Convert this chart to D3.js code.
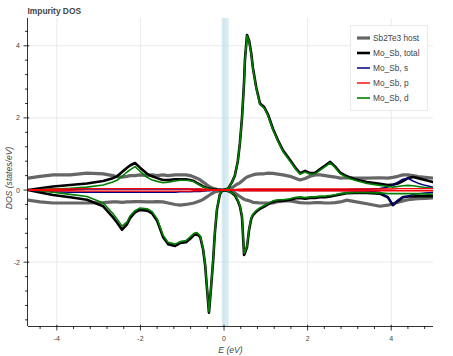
<!DOCTYPE html>
<html><head><meta charset="utf-8">
<script src="https://cdn.jsdelivr.net/npm/d3@7"></script>
<style>
body{margin:0;background:#fff}
svg{display:block;font-family:"Liberation Sans",Arial,Helvetica,sans-serif}
</style>
</head><body>
<svg id="c" width="453" height="356"></svg>
<script>
// Energy grid (eV)
const energy = [-4.69,-4.40,-4.09,-3.68,-3.28,-2.89,-2.66,-2.56,-2.44,-2.32,-2.25,-2.13,-2.01,-1.84,-1.72,-1.60,-1.46,-1.34,-1.17,-1.05,-0.91,-0.81,-0.72,-0.65,-0.57,-0.50,-0.45,-0.41,-0.36,-0.31,-0.26,-0.22,-0.17,-0.10,-0.05,
0.00,0.05,0.10,0.14,0.19,0.26,0.33,0.38,0.43,0.48,0.50,0.55,0.60,0.65,0.69,0.77,0.86,0.96,1.05,1.17,1.29,1.41,1.58,1.72,1.82,1.94,2.06,2.18,2.30,2.42,2.54,2.66,2.78,2.94,3.13,3.42,3.73,3.92,4.04,4.16,4.28,4.40,4.52,4.64,4.81,5.00];

const hostUp = [0.33,0.38,0.42,0.42,0.47,0.45,0.4,0.37,0.36,0.38,0.4,0.4,0.42,0.4,0.42,0.4,0.42,0.4,0.42,0.42,0.42,0.4,0.36,0.33,0.28,0.22,0.18,0.14,0.1,0.07,0.05,0.03,0.02,0.01,0,
0,0,0.01,0.03,0.06,0.12,0.17,0.2,0.25,0.3,0.32,0.36,0.38,0.4,0.42,0.44,0.45,0.45,0.47,0.46,0.44,0.42,0.38,0.32,0.28,0.32,0.38,0.42,0.42,0.4,0.38,0.36,0.33,0.34,0.33,0.33,0.34,0.33,0.35,0.38,0.42,0.42,0.4,0.37,0.35,0.33];
const hostDown = [-0.28,-0.33,-0.36,-0.36,-0.36,-0.35,-0.33,-0.33,-0.34,-0.33,-0.33,-0.32,-0.32,-0.33,-0.33,-0.32,-0.33,-0.36,-0.4,-0.42,-0.4,-0.38,-0.36,-0.33,-0.3,-0.26,-0.22,-0.19,-0.15,-0.11,-0.08,-0.05,-0.04,-0.02,-0.01,
0,-0.01,-0.02,-0.03,-0.05,-0.08,-0.14,-0.18,-0.22,-0.25,-0.27,-0.28,-0.3,-0.32,-0.34,-0.35,-0.36,-0.36,-0.36,-0.36,-0.32,-0.3,-0.3,-0.33,-0.35,-0.36,-0.36,-0.35,-0.35,-0.36,-0.36,-0.35,-0.33,-0.28,-0.32,-0.38,-0.45,-0.42,-0.38,-0.34,-0.3,-0.27,-0.25,-0.24,-0.23,-0.22];

const totalUp = [0,0.05,0.1,0.14,0.18,0.25,0.33,0.38,0.5,0.62,0.68,0.75,0.62,0.45,0.38,0.33,0.28,0.28,0.3,0.3,0.3,0.28,0.25,0.2,0.15,0.1,0.08,0.05,0.04,0.03,0.02,0.01,0.01,0,0,
0,0.02,0.05,0.12,0.22,0.4,0.8,1.3,2.0,3.0,3.6,4.3,4.15,3.8,3.4,2.85,2.4,2.3,2.1,1.7,1.38,1.1,0.83,0.6,0.47,0.53,0.47,0.48,0.58,0.68,0.78,0.65,0.48,0.38,0.3,0.22,0.17,0.14,0.15,0.18,0.25,0.33,0.36,0.33,0.28,0.22];
const totalDown = [0,-0.07,-0.14,-0.2,-0.27,-0.45,-0.75,-0.9,-1.1,-0.95,-0.78,-0.62,-0.55,-0.57,-0.65,-0.85,-1.3,-1.5,-1.55,-1.47,-1.45,-1.35,-1.25,-1.22,-1.3,-1.65,-2.1,-2.7,-3.4,-2.7,-1.95,-1.2,-0.55,-0.12,-0.03,
0,-0.01,-0.03,-0.05,-0.08,-0.15,-0.3,-0.45,-0.75,-1.8,-1.75,-1.58,-1.1,-0.8,-0.7,-0.6,-0.52,-0.46,-0.4,-0.33,-0.3,-0.3,-0.27,-0.23,-0.22,-0.24,-0.22,-0.22,-0.2,-0.2,-0.18,-0.15,-0.12,-0.09,-0.08,-0.08,-0.1,-0.2,-0.42,-0.3,-0.2,-0.18,-0.18,-0.17,-0.17,-0.17];

const sUp = [0,0.01,0.02,0.02,0.03,0.03,0.03,0.03,0.03,0.03,0.03,0.03,0.03,0.03,0.03,0.03,0.03,0.03,0.03,0.03,0.03,0.03,0.02,0.02,0.02,0.01,0.01,0.01,0.01,0,0,0,0,0,0,
0,0,0,0,0,0.01,0.01,0.01,0.01,0.01,0.01,0.01,0.01,0.01,0.01,0.01,0.01,0.01,0.01,0.01,0.01,0.01,0.01,0.01,0.01,0.01,0.01,0.01,0.01,0.01,0.01,0.01,0.01,0.01,0.02,0.02,0.04,0.08,0.14,0.22,0.3,0.33,0.25,0.19,0.13,0.08];
const sDown = [0,-0.03,-0.05,-0.06,-0.06,-0.06,-0.06,-0.06,-0.06,-0.06,-0.06,-0.06,-0.06,-0.06,-0.06,-0.06,-0.06,-0.06,-0.06,-0.05,-0.05,-0.05,-0.04,-0.04,-0.04,-0.03,-0.03,-0.02,-0.02,-0.01,-0.01,0,0,0,0,
0,0,0,0,0,-0.01,-0.01,-0.01,-0.01,-0.01,-0.01,-0.01,-0.01,-0.01,-0.01,-0.01,-0.01,-0.01,-0.01,-0.01,-0.01,-0.01,-0.01,-0.01,-0.01,-0.01,-0.01,-0.01,-0.01,-0.01,-0.01,-0.01,-0.01,-0.02,-0.02,-0.03,-0.06,-0.2,-0.42,-0.28,-0.18,-0.17,-0.12,-0.1,-0.08,-0.07];

const pUp = [0,0.01,0.02,0.03,0.04,0.04,0.04,0.04,0.04,0.04,0.04,0.04,0.04,0.04,0.04,0.04,0.04,0.04,0.04,0.04,0.03,0.03,0.03,0.03,0.03,0.02,0.02,0.02,0.01,0.01,0.01,0.01,0,0,0,
0,0,0.01,0.01,0.01,0.01,0.02,0.02,0.02,0.03,0.03,0.03,0.03,0.03,0.03,0.03,0.03,0.03,0.03,0.03,0.03,0.03,0.03,0.03,0.03,0.03,0.03,0.03,0.03,0.03,0.03,0.03,0.03,0.03,0.03,0.03,0.03,0.03,0.03,0.04,0.04,0.04,0.04,0.04,0.04,0.04];
const pDown = [0,-0.01,-0.02,-0.02,-0.03,-0.03,-0.03,-0.03,-0.03,-0.03,-0.03,-0.03,-0.03,-0.03,-0.03,-0.03,-0.03,-0.03,-0.03,-0.03,-0.03,-0.03,-0.02,-0.02,-0.02,-0.02,-0.01,-0.01,-0.01,-0.01,-0.01,0,0,0,0,
0,0,-0.01,-0.01,-0.01,-0.01,-0.01,-0.02,-0.02,-0.02,-0.02,-0.02,-0.02,-0.02,-0.02,-0.02,-0.02,-0.02,-0.02,-0.02,-0.02,-0.02,-0.02,-0.02,-0.02,-0.02,-0.02,-0.02,-0.02,-0.02,-0.02,-0.02,-0.02,-0.02,-0.02,-0.02,-0.02,-0.02,-0.02,-0.02,-0.02,-0.02,-0.02,-0.02,-0.02,-0.02];

const dUp = [0,0.01,0.03,0.05,0.08,0.14,0.22,0.27,0.38,0.5,0.56,0.65,0.52,0.35,0.28,0.24,0.2,0.22,0.25,0.27,0.27,0.26,0.23,0.18,0.13,0.09,0.07,0.05,0.03,0.02,0.01,0.01,0,0,0,
0,0.02,0.05,0.12,0.22,0.4,0.8,1.3,2.0,3.0,3.6,4.28,4.12,3.77,3.37,2.82,2.37,2.27,2.07,1.67,1.35,1.07,0.8,0.57,0.44,0.5,0.44,0.45,0.55,0.65,0.75,0.62,0.45,0.35,0.27,0.18,0.13,0.1,0.08,0.1,0.12,0.13,0.12,0.1,0.07,0.05];
const dDown = [0,-0.02,-0.06,-0.12,-0.18,-0.36,-0.65,-0.8,-1.0,-0.88,-0.72,-0.57,-0.5,-0.52,-0.6,-0.8,-1.25,-1.45,-1.5,-1.43,-1.4,-1.3,-1.2,-1.18,-1.27,-1.62,-2.08,-2.68,-3.38,-2.68,-1.93,-1.18,-0.53,-0.11,-0.02,
0,-0.01,-0.03,-0.05,-0.08,-0.14,-0.28,-0.43,-0.72,-1.75,-1.72,-1.55,-1.07,-0.77,-0.67,-0.57,-0.49,-0.43,-0.37,-0.3,-0.27,-0.27,-0.24,-0.2,-0.19,-0.21,-0.19,-0.19,-0.17,-0.17,-0.15,-0.13,-0.1,-0.08,-0.07,-0.07,-0.08,-0.1,-0.1,-0.1,-0.1,-0.1,-0.1,-0.1,-0.11,-0.12];

const xTicks = [-4, -2, 0, 2, 4];
const yTicks = [-2, 0, 2, 4];
const xDomain = [-4.69, 5.0];
const yDomain = [-3.77, 4.77];
const fermiBand = [-0.055, 0.11];
const legendLabels = ["Sb2Te3 host", "Mo_Sb, total", "Mo_Sb, s", "Mo_Sb, p", "Mo_Sb, d"];
const titleText = "Impurity DOS";
const xLabel = "E (eV)";
const yLabel = "DOS (states/eV)";

const series = [
  {name: legendLabels[0], up: hostUp, down: hostDown, color: "#666666", width: 3.2},
  {name: legendLabels[1], up: totalUp, down: totalDown, color: "#000000", width: 2.6},
  {name: legendLabels[2], up: sUp, down: sDown, color: "#000080", width: 1.5},
  {name: legendLabels[3], up: pUp, down: pDown, color: "#ff0000", width: 1.4},
  {name: legendLabels[4], up: dUp, down: dDown, color: "#008000", width: 1.6}
];
const drawOrder = [0, 1, 2, 4, 3];

const L = 28, R = 433, T = 18, B = 326;
const svg = d3.select("#c");
const x = d3.scaleLinear().domain(xDomain).range([L, R]);
const y = d3.scaleLinear().domain(yDomain).range([B, T]);

// grid
const grid = svg.append("g");
xTicks.forEach(v => grid.append("line").attr("x1", x(v)).attr("x2", x(v)).attr("y1", T).attr("y2", B).attr("stroke", "#e5e5e5").attr("stroke-width", 0.8));
yTicks.forEach(v => grid.append("line").attr("x1", L).attr("x2", R).attr("y1", y(v)).attr("y2", y(v)).attr("stroke", "#e5e5e5").attr("stroke-width", 0.8));

// fermi band
svg.append("rect").attr("x", x(fermiBand[0])).attr("width", x(fermiBand[1]) - x(fermiBand[0]))
  .attr("y", T).attr("height", B - T).attr("fill", "#add8e6").attr("fill-opacity", 0.5);

// lines
svg.append("clipPath").attr("id", "pc").append("rect").attr("x", L).attr("y", T).attr("width", R - L).attr("height", B - T);
const lines = svg.append("g").attr("clip-path", "url(#pc)");
drawOrder.forEach(k => {
  const s = series[k];
  [s.up, s.down].forEach(arr => {
    const ln = d3.line().x((d, i) => x(energy[i])).y(d => y(d));
    lines.append("path").attr("d", ln(arr)).attr("fill", "none").attr("stroke", s.color)
      .attr("stroke-width", s.width).attr("stroke-linejoin", "round").attr("stroke-linecap", "round");
  });
});

// axes
const ax = svg.append("g").attr("stroke", "#000").attr("stroke-width", 0.8);
const xMinor = d3.range(-4.8, 5.01, 0.4).map(v => +v.toFixed(2)).filter(v => v >= xDomain[0] && v <= xDomain[1] && !xTicks.some(t => Math.abs(t - v) < 1e-6));
const yMinor = d3.range(-3.6, 4.81, 0.4).map(v => +v.toFixed(2)).filter(v => v >= yDomain[0] && v <= yDomain[1] && !yTicks.some(t => Math.abs(t - v) < 1e-6));
ax.append("line").attr("x1", L).attr("x2", R).attr("y1", B + 0.5).attr("y2", B + 0.5);
ax.append("line").attr("x1", L - 0.5).attr("x2", L - 0.5).attr("y1", T).attr("y2", B);
xTicks.forEach(v => ax.append("line").attr("x1", x(v)).attr("x2", x(v)).attr("y1", B - 1.3).attr("y2", B + 4.5));
xMinor.forEach(v => ax.append("line").attr("x1", x(v)).attr("x2", x(v)).attr("y1", B).attr("y2", B + 3));
yTicks.forEach(v => ax.append("line").attr("y1", y(v)).attr("y2", y(v)).attr("x1", L + 1.3).attr("x2", L - 4.5));
yMinor.forEach(v => ax.append("line").attr("y1", y(v)).attr("y2", y(v)).attr("x1", L).attr("x2", L - 3));

const fmt = v => String(v);
svg.append("g").selectAll("text").data(xTicks).join("text")
  .attr("x", d => x(d)).attr("y", 340.5).attr("text-anchor", "middle")
  .attr("font-size", 7).attr("fill", "#444").text(fmt);
svg.append("g").selectAll("text").data(yTicks).join("text")
  .attr("x", 20).attr("y", d => y(d) + 2.5).attr("text-anchor", "end")
  .attr("font-size", 7).attr("fill", "#444").text(fmt);

svg.append("text").attr("x", (L + R) / 2).attr("y", 353).attr("text-anchor", "middle")
  .attr("font-size", 8.6).attr("font-style", "italic").attr("fill", "#444").text(xLabel);
svg.append("text").attr("transform", `translate(12,${(T + B) / 2 + 6}) rotate(-90)`).attr("text-anchor", "middle")
  .attr("font-size", 8.6).attr("font-style", "italic").attr("fill", "#444").text(yLabel);

svg.append("text").attr("x", L - 0.5).attr("y", 14).attr("font-size", 8.4).attr("font-weight", "bold")
  .attr("fill", "#444").text(titleText);

// legend
const lg = svg.append("g");
lg.append("rect").attr("x", 350.5).attr("y", 25.5).attr("width", 77).attr("height", 85)
  .attr("fill", "#fff").attr("stroke", "#e5e5e5").attr("stroke-width", 0.8);
series.forEach((s, i) => {
  const cy = 38 + i * 15;
  lg.append("line").attr("x1", 357).attr("x2", 370).attr("y1", cy).attr("y2", cy)
    .attr("stroke", s.color).attr("stroke-width", s.width);
  lg.append("text").attr("x", 373).attr("y", cy + 3).attr("font-size", 8.3).attr("fill", "#444").text(s.name);
});
</script>
</body></html>
